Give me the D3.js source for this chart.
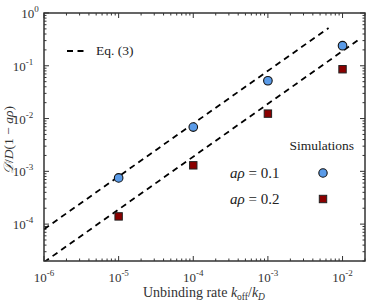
<!DOCTYPE html>
<html><head><meta charset="utf-8">
<script src="https://cdn.jsdelivr.net/npm/d3@7"></script>
<style>body{margin:0;background:#fff}svg{display:block}</style>
</head><body>
<svg id="c" width="374" height="302"></svg>
<script>
const xTicks = [1e-6, 1e-5, 1e-4, 1e-3, 1e-2];
const yTicks = [1e-4, 1e-3, 1e-2, 1e-1, 1];
const simX = [1e-5, 1e-4, 1e-3, 1e-2];
const sim01 = [7.5e-4, 6.9e-3, 0.052, 0.24];
const sim02 = [1.4e-4, 1.3e-3, 0.0124, 0.086];
const eqXUpper = [1e-6, 6.5e-3];
const eqYUpper = [8.0e-5, 0.52];
const eqXLower = [1e-6, 1.7e-2];
const eqYLower = [1.9e-5, 0.323];

const svg = d3.select("#c");
const m = {l:44, r:365, t:13, b:261};
const x = d3.scaleLog().domain([1e-6, 2e-2]).range([m.l, m.r]);
const y = d3.scaleLog().domain([2e-5, 1]).range([m.b, m.t]);
const font = "'Liberation Serif', 'DejaVu Serif', serif";
const axisCol = "#333";

svg.append("defs").append("clipPath").attr("id","clip")
  .append("rect").attr("x",m.l).attr("y",m.t).attr("width",m.r-m.l).attr("height",m.b-m.t);

function minors(dom){
  const out=[];
  const lo=Math.floor(Math.log10(dom[0])), hi=Math.ceil(Math.log10(dom[1]));
  for(let e=lo;e<=hi;e++) for(let k=1;k<10;k++){const v=k*Math.pow(10,e); if(v>=dom[0]*0.999&&v<=dom[1]*1.001) out.push({v,major:k===1});}
  return out;
}
const g = svg.append("g");
minors(x.domain()).forEach(d=>{
  const L=d.major?5:2.5, px=x(d.v);
  g.append("line").attr("x1",px).attr("x2",px).attr("y1",m.b).attr("y2",m.b-L).attr("stroke",axisCol).attr("stroke-width",1);
  g.append("line").attr("x1",px).attr("x2",px).attr("y1",m.t).attr("y2",m.t+L).attr("stroke",axisCol).attr("stroke-width",1);
});
minors(y.domain()).forEach(d=>{
  const L=d.major?5:2.5, py=y(d.v);
  g.append("line").attr("y1",py).attr("y2",py).attr("x1",m.l).attr("x2",m.l+L).attr("stroke",axisCol).attr("stroke-width",1);
  g.append("line").attr("y1",py).attr("y2",py).attr("x1",m.r).attr("x2",m.r-L).attr("stroke",axisCol).attr("stroke-width",1);
});

function pow10(sel, e){
  sel.append("tspan").text("10");
  sel.append("tspan").attr("dy",-6).attr("font-size",9).text(e);
}
xTicks.forEach(v=>{
  const e=Math.round(Math.log10(v));
  const t=svg.append("text").attr("x",x(v)).attr("y",282).attr("text-anchor","middle")
    .attr("font-family",font).attr("font-size",13).attr("fill","#333");
  pow10(t, e);
});
yTicks.forEach(v=>{
  const e=Math.round(Math.log10(v));
  const t=svg.append("text").attr("x",e===0?30:23).attr("y",y(v)+5).attr("text-anchor","middle")
    .attr("font-family",font).attr("font-size",13).attr("fill","#333");
  pow10(t, e);
});

const line = d3.line().x(d=>x(d[0])).y(d=>y(d[1]));
[[eqXUpper,eqYUpper],[eqXLower,eqYLower]].forEach(([xs,ys])=>{
  svg.append("path").attr("clip-path","url(#clip)")
    .attr("d", line(xs.map((v,i)=>[v,ys[i]])))
    .attr("fill","none").attr("stroke","#000").attr("stroke-width",1.8).attr("stroke-dasharray","6,4.5");
});

simX.forEach((v,i)=>{
  svg.append("circle").attr("cx",x(v)).attr("cy",y(sim01[i])).attr("r",4.3)
    .attr("fill","#5a9be8").attr("stroke","#111").attr("stroke-width",1.1);
  svg.append("rect").attr("x",x(v)-3.7).attr("y",y(sim02[i])-3.7).attr("width",7.4).attr("height",7.4)
    .attr("fill","#8b0000").attr("stroke","#222").attr("stroke-width",1);
});

svg.append("rect").attr("x",m.l).attr("y",m.t).attr("width",m.r-m.l).attr("height",m.b-m.t)
  .attr("fill","none").attr("stroke",axisCol).attr("stroke-width",1.5);

svg.append("line").attr("x1",67).attr("x2",86).attr("y1",51).attr("y2",51)
  .attr("stroke","#000").attr("stroke-width",1.8).attr("stroke-dasharray","6,4.5");
svg.append("text").attr("x",96).attr("y",55).attr("font-family",font).attr("font-size",13.5).attr("fill","#222").text("Eq. (3)");
svg.append("text").attr("x",354).attr("y",150).attr("text-anchor","end").attr("font-family",font).attr("font-size",13.5).attr("fill","#222").text("Simulations");
function arho(yy,val){
  const t=svg.append("text").attr("x",230).attr("y",yy).attr("font-family",font).attr("font-size",15).attr("fill","#222");
  t.append("tspan").attr("font-style","italic").text("aρ");
  t.append("tspan").text(" = "+val);
}
arho(178,"0.1"); arho(204,"0.2");
svg.append("circle").attr("cx",323).attr("cy",173).attr("r",4.2).attr("fill","#5a9be8").attr("stroke","#111").attr("stroke-width",1.1);
svg.append("rect").attr("x",319.3).attr("y",195.3).attr("width",7.4).attr("height",7.4).attr("fill","#8b0000").attr("stroke","#222").attr("stroke-width",1);

const xl=svg.append("text").attr("x",204).attr("y",297).attr("text-anchor","middle").attr("font-family",font).attr("font-size",14).attr("fill","#333");
xl.append("tspan").text("Unbinding rate ");
xl.append("tspan").attr("font-style","italic").text("k");
xl.append("tspan").attr("font-size",9.5).attr("dy",3).text("off");
xl.append("tspan").attr("dy",-3).text("/");
xl.append("tspan").attr("font-style","italic").text("k");
xl.append("tspan").attr("font-size",9.5).attr("font-style","italic").attr("dy",3).text("D");
const yl=svg.append("text").attr("transform","translate(13,140) rotate(-90)").attr("text-anchor","middle").attr("font-family",font).attr("font-size",13.5).attr("fill","#333");
yl.append("tspan").attr("font-style","italic").text("𝒟");
yl.append("tspan").text("/");
yl.append("tspan").attr("font-style","italic").text("D");
yl.append("tspan").text("(1 − ");
yl.append("tspan").attr("font-style","italic").text("aρ");
yl.append("tspan").text(")");
</script>
</body></html>
